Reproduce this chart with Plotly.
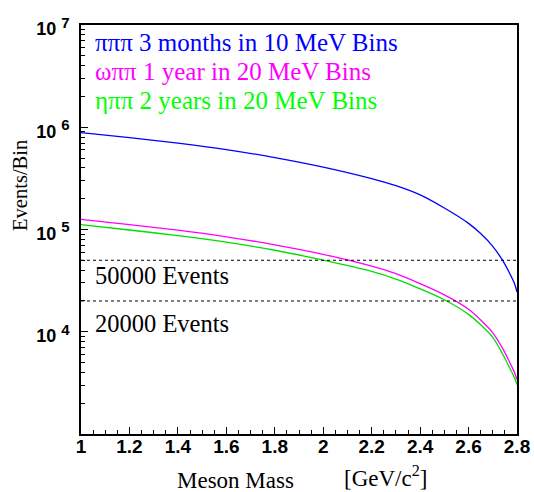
import plotly.graph_objects as go

# Meson mass points [GeV/c^2]
mass = [1.0, 1.2, 1.4, 1.6, 1.8, 2.0, 2.2, 2.3, 2.4, 2.5, 2.6, 2.65, 2.7, 2.74, 2.77, 2.79, 2.8]

# Events per bin
pi3_events = [885000, 790700, 699800, 605300, 504700, 407400, 314100, 267900, 217800,
              162200, 114800, 91200, 68400, 50100, 37150, 29510, 24430]
omega_events = [125600, 111700, 98600, 84900, 70800, 57150, 43850, 36980, 29510,
                22910, 16600, 13030, 9770, 6920, 5010, 3980, 3400]
eta_events = [111400, 98860, 87100, 75160, 62660, 50120, 38900, 32730, 26300,
              20560, 14790, 11700, 8810, 6100, 4420, 3530, 3040]

series_names = ["πππ 3 months in 10 MeV Bins",
                "ωππ 1 year in 20 MeV Bins",
                "ηππ 2 years in 20 MeV Bins"]
series_colors = ["#0000ff", "#ff00ff", "#00ff00"]
line_colors = ["#0000ff", "#ff00ff", "#00dd00"]

thresholds = [50000, 20000]
threshold_labels = ["50000 Events", "20000 Events"]

y_tick_vals = [1e4, 1e5, 1e6, 1e7]
y_tick_exps = ["4", "5", "6", "7"]
x_tick_vals = [1.0, 1.2, 1.4, 1.6, 1.8, 2.0, 2.2, 2.4, 2.6, 2.8]
x_tick_text = ["1", "1.2", "1.4", "1.6", "1.8", "2", "2.2", "2.4", "2.6", "2.8"]

SERIF = "Liberation Serif, Times New Roman, serif"
SANS = "Liberation Sans, Arial, Helvetica, sans-serif"

fig = go.Figure()
for ys, name, col in zip([pi3_events, omega_events, eta_events], series_names, line_colors):
    fig.add_trace(go.Scatter(x=mass, y=ys, mode="lines", name=name,
                             line=dict(color=col, width=1.3, shape="spline", smoothing=0.8),
                             showlegend=False))

for t in thresholds:
    fig.add_shape(type="line", xref="x", yref="y", x0=1.0, x1=2.8, y0=t, y1=t,
                  line=dict(color="black", width=1, dash="3px,3px"))

minor_y = [m * 10 ** k for k in range(3, 7) for m in range(2, 10)]

fig.update_layout(
    width=534, height=492,
    margin=dict(l=80.5, r=17, t=24.7, b=58.3, autoexpand=False),
    paper_bgcolor="white", plot_bgcolor="white",
    xaxis=dict(range=[1.0, 2.8], showgrid=False, zeroline=False, automargin=False,
               showline=True, linecolor="black", linewidth=1.5, mirror=True,
               ticks="inside", ticklen=7, tickwidth=1, tickcolor="black",
               tickvals=x_tick_vals, ticktext=["<b>%s</b>" % t for t in x_tick_text],
               tickfont=dict(family=SANS, size=19, color="black"),
               ticklabelstandoff=-6,
               minor=dict(ticks="inside", ticklen=4, tickwidth=1, tickcolor="black",
                          dtick=0.05, tick0=1.0, showgrid=False)),
    yaxis=dict(type="log", range=[3, 7], showgrid=False, zeroline=False, automargin=False,
               showline=True, linecolor="black", linewidth=1.5, mirror=True,
               ticks="inside", ticklen=7, tickwidth=1, tickcolor="black",
               tickvals=y_tick_vals,
               ticktext=["<b>10 <sup><span style='font-size:15px'>%s</span></sup></b>" % e
                         for e in y_tick_exps],
               tickfont=dict(family=SANS, size=18, color="black"),
               ticklabelstandoff=6, ticklabelshift=4,
               minor=dict(ticks="inside", ticklen=4, tickwidth=1, tickcolor="black",
                          tickvals=minor_y, showgrid=False)),
)

annotations = []
leg_y = [0.958, 0.887, 0.816]
for name, col, yy in zip(series_names, series_colors, leg_y):
    annotations.append(dict(text=name, xref="paper", yref="paper", x=0.027, y=yy,
                            xanchor="left", yanchor="middle", showarrow=False,
                            font=dict(family=SERIF, size=25, color=col)))
for lab, yy in zip(threshold_labels, [0.388, 0.270]):
    annotations.append(dict(text=lab, xref="paper", yref="paper", x=0.028, y=yy,
                            xanchor="left", yanchor="middle", showarrow=False,
                            font=dict(family=SERIF, size=24.5, color="black")))
annotations.append(dict(text="Events/Bin", xref="paper", yref="paper", x=-0.1386, y=0.608,
                        xanchor="center", yanchor="middle", textangle=-90, showarrow=False,
                        font=dict(family=SERIF, size=20.5, color="black")))
annotations.append(dict(text="Meson Mass", xref="paper", yref="paper", x=(235 - 80.5) / 436.5,
                        y=-0.113, xanchor="center", yanchor="middle", showarrow=False,
                        font=dict(family=SERIF, size=23, color="black")))
annotations.append(dict(text="[GeV/c<sup>2</sup>]", xref="paper", yref="paper",
                        x=(342 - 80.5) / 436.5, y=-0.113, xanchor="left", yanchor="middle",
                        yshift=4, showarrow=False,
                        font=dict(family=SERIF, size=23, color="black")))
fig.update_layout(annotations=annotations)

fig.write_html("out.html", config={"displayModeBar": False},
               post_script="document.body.style.margin='0px';document.body.style.overflow='hidden';")
